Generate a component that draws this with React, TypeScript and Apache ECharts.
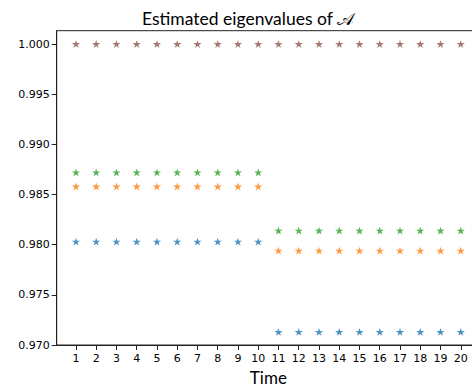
import React, { useEffect, useRef } from "react";
import * as echarts from "echarts";

const times = [1, 2, 3, 4, 5, 6, 7, 8, 9, 10, 11, 12, 13, 14, 15, 16, 17, 18, 19, 20];
const yTicks = [0.970, 0.975, 0.980, 0.985, 0.990, 0.995, 1.000];

const eig1 = [0.9803, 0.9803, 0.9803, 0.9803, 0.9803, 0.9803, 0.9803, 0.9803, 0.9803, 0.9803,
  0.9713, 0.9713, 0.9713, 0.9713, 0.9713, 0.9713, 0.9713, 0.9713, 0.9713, 0.9713];
const eig2 = [0.9858, 0.9858, 0.9858, 0.9858, 0.9858, 0.9858, 0.9858, 0.9858, 0.9858, 0.9858,
  0.9794, 0.9794, 0.9794, 0.9794, 0.9794, 0.9794, 0.9794, 0.9794, 0.9794, 0.9794];
const eig3 = [0.9872, 0.9872, 0.9872, 0.9872, 0.9872, 0.9872, 0.9872, 0.9872, 0.9872, 0.9872,
  0.9814, 0.9814, 0.9814, 0.9814, 0.9814, 0.9814, 0.9814, 0.9814, 0.9814, 0.9814];
const eig6 = [1.0, 1.0, 1.0, 1.0, 1.0, 1.0, 1.0, 1.0, 1.0, 1.0,
  1.0, 1.0, 1.0, 1.0, 1.0, 1.0, 1.0, 1.0, 1.0, 1.0];

const seriesValues = [eig1, eig2, eig3, eig6];
const colors = ["#1f77b4", "#ff7f0e", "#2ca02c", "#8c564b"];

const STAR =
  "path://M100 0 L122.45 69.1 L195.11 69.1 L136.33 111.8 L158.78 180.9 L100 138.2 L41.22 180.9 L63.67 111.8 L4.89 69.1 L77.55 69.1 Z";

export default function App() {
  const ref = useRef<HTMLDivElement>(null);
  useEffect(() => {
    if (!ref.current) return;
    const chart = echarts.init(ref.current, null, { renderer: "svg" });
    const labelFont = { fontFamily: "DejaVu Sans", fontSize: 11, color: "#000" };
    chart.setOption({
      animation: false,
      backgroundColor: "#fff",
      title: {
        text: "Estimated eigenvalues of 𝒜",
        left: 243,
        top: 4,
        textAlign: "center",
        textStyle: { fontFamily: "Lato", fontWeight: "normal", fontSize: 17.5, color: "#000" },
      },
      grid: {
        left: 56.7,
        top: 30.7,
        width: 423.3,
        height: 314.3,
        containLabel: false,
        outerBoundsMode: "none",
        show: true,
        borderColor: "#222",
        borderWidth: 1,
        backgroundColor: "transparent",
      },
      xAxis: {
        type: "value",
        min: 0.05,
        max: 20.95,
        name: "Time",
        nameLocation: "middle",
        nameGap: 23,
        nameTextStyle: { fontFamily: "Lato", fontSize: 17, color: "#000", verticalAlign: "top" },
        axisLine: { show: true, lineStyle: { color: "#222", width: 1 } },
        axisTick: { show: true, length: 5, customValues: times, lineStyle: { color: "#222" } },
        axisLabel: { ...labelFont, margin: 8, customValues: times, formatter: (v: number) => String(Math.round(v)) },
        splitLine: { show: false },
      },
      yAxis: {
        type: "value",
        min: 0.970,
        max: 1.00133,
        axisLine: { show: true, lineStyle: { color: "#222", width: 1 } },
        axisTick: { show: true, length: 5, customValues: yTicks, lineStyle: { color: "#222" } },
        axisLabel: { ...labelFont, margin: 7, customValues: yTicks, formatter: (v: number) => v.toFixed(3) },
        splitLine: { show: false },
      },
      series: seriesValues.map((vals, i) => ({
        type: "scatter",
        data: times.map((t, j) => [t, vals[j]]),
        symbol: STAR,
        symbolSize: [8.2, 7.8],
        itemStyle: { color: colors[i] },
        z: 2 + i,
      })),
    });
    return () => chart.dispose();
  }, []);
  return (
    <div
      ref={ref}
      style={{ position: "fixed", left: 0, top: 0, width: 472, height: 387 }}
    />
  );
}
